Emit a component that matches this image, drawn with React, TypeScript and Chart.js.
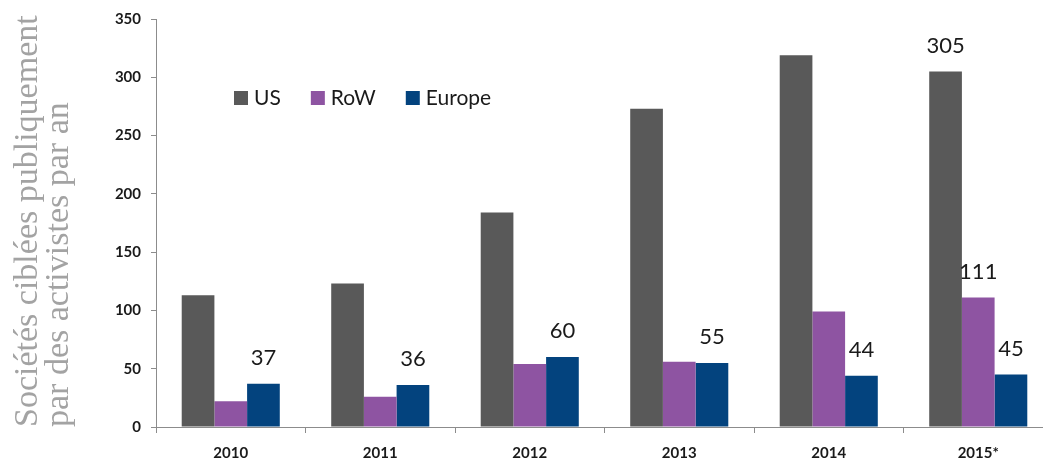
import React, { useEffect, useRef } from "react";
import { Chart, registerables } from "chart.js";

Chart.register(...registerables);

const categories = ["2010", "2011", "2012", "2013", "2014", "2015*"];
const usValues = [113, 123, 184, 273, 319, 305];
const rowValues = [22, 26, 54, 56, 99, 111];
const europeValues = [37, 36, 60, 55, 44, 45];
const seriesNames = ["US", "RoW", "Europe"];
const seriesColors = ["#595959", "#8E54A2", "#03437E"];
const yAxisTitle = ["Sociétés ciblées publiquement", "par des activistes par an"];
const yMax = 350;
const yStep = 50;

const valueLabels = {
  id: "valueLabels",
  afterDatasetsDraw(chart: any) {
    const ctx = chart.ctx;
    ctx.save();
    ctx.font = "22px Lato";
    ctx.fillStyle = "#1a1a1a";
    ctx.textAlign = "center";
    ctx.textBaseline = "middle";
    chart.data.datasets.forEach((ds: any, di: number) => {
      const meta = chart.getDatasetMeta(di);
      meta.data.forEach((bar: any, i: number) => {
        const show = di === 2 || i === ds.data.length - 1;
        if (!show) return;
        ctx.fillText(String(ds.data[i]), bar.x, bar.y - 26);
      });
    });
    ctx.restore();
  },
};

const innerLegend = {
  id: "innerLegend",
  afterDraw(chart: any) {
    const ctx = chart.ctx;
    ctx.save();
    ctx.font = "21px Lato";
    ctx.textBaseline = "middle";
    ctx.textAlign = "left";
    let x = 234;
    const y = 98;
    chart.data.datasets.forEach((ds: any) => {
      ctx.fillStyle = ds.backgroundColor;
      ctx.fillRect(x, y - 7, 14, 14);
      x += 20;
      ctx.fillStyle = "#1a1a1a";
      ctx.fillText(ds.label, x, y);
      x += ctx.measureText(ds.label).width + 30;
    });
    ctx.restore();
  },
};

export default function App() {
  const ref = useRef<HTMLCanvasElement>(null);
  useEffect(() => {
    if (!ref.current) return;
    const chart = new Chart(ref.current, {
      type: "bar",
      data: {
        labels: categories,
        datasets: [usValues, rowValues, europeValues].map((d, i) => ({
          label: seriesNames[i],
          data: d,
          backgroundColor: seriesColors[i],
          categoryPercentage: 0.656,
          barPercentage: 1,
        })),
      },
      options: {
        animation: false,
        responsive: false,
        devicePixelRatio: 1,
        layout: { padding: { top: 19, right: 3, bottom: 0, left: 0 } },
        plugins: { legend: { display: false }, tooltip: { enabled: false } },
        scales: {
          x: {
            afterFit: (s: any) => {
              s.height = 36;
            },
            grid: {
              display: true,
              offset: true,
              drawOnChartArea: false,
              tickLength: 6,
              color: "#8c8c8c",
            },
            border: { color: "#8c8c8c" },
            ticks: {
              color: "#1a1a1a",
              font: { family: "Lato", size: 15, weight: "bold" },
              padding: 11,
            },
          },
          y: {
            min: 0,
            max: yMax,
            afterFit: (s: any) => {
              s.width = 156;
            },
            grid: {
              display: true,
              drawOnChartArea: false,
              tickLength: 5,
              color: "#8c8c8c",
            },
            border: { color: "#8c8c8c" },
            ticks: {
              stepSize: yStep,
              color: "#1a1a1a",
              font: { family: "Lato", size: 15, weight: "bold" },
              padding: 10,
            },
            title: {
              display: true,
              text: yAxisTitle,
              align: "start",
              color: "#a3a3a3",
              font: { family: "Liberation Serif", size: 34, lineHeight: "31px" },
              padding: { top: 13, bottom: 0 },
            },
          },
        },
      },
      plugins: [valueLabels, innerLegend],
    } as any);
    return () => chart.destroy();
  }, []);
  return (
    <div
      style={{
        position: "fixed",
        left: 0,
        top: 0,
        width: 1043,
        height: 463,
        overflow: "hidden",
        background: "#fff",
      }}
    >
      <canvas ref={ref} width={1056} height={463} style={{ width: 1056, height: 463, display: "block" }} />
    </div>
  );
}
